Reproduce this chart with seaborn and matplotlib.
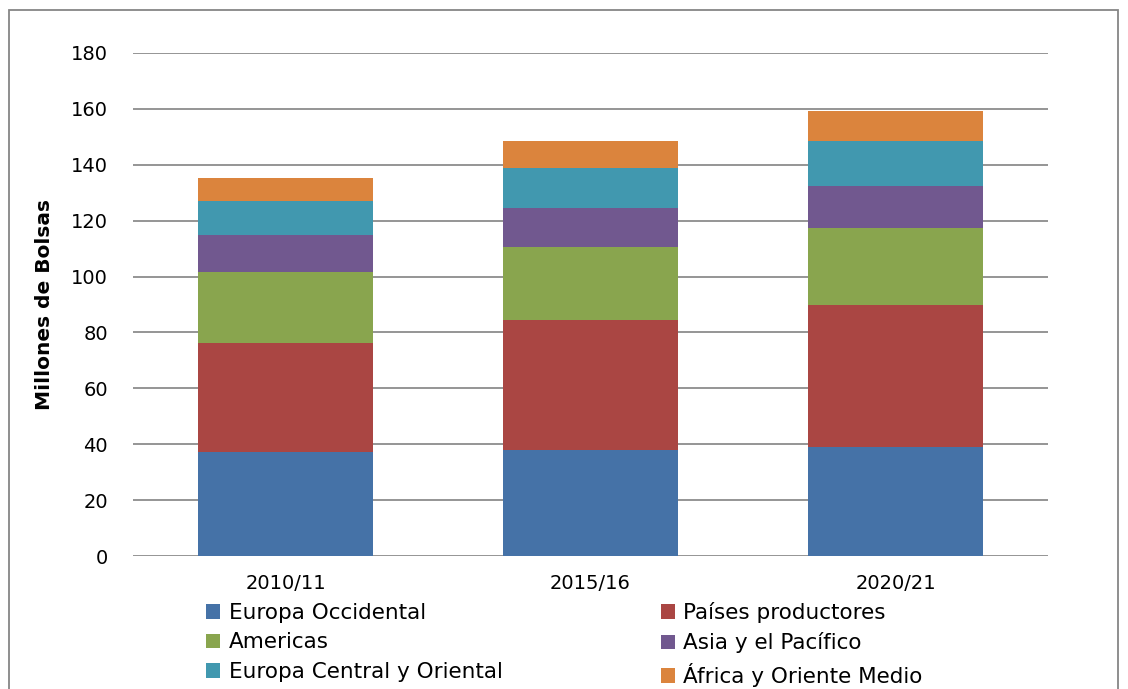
import seaborn as sns
import matplotlib.pyplot as plt
import pandas as pd
from matplotlib.patches import Rectangle, Patch

sns.set_theme(style="white")
plt.rcParams['font.family'] = ['DejaVu Sans']
plt.rcParams['text.color'] = 'black'

years = ["2010/11", "2015/16", "2020/21"]
regions = ["Europa Occidental", "Países productores", "Americas",
           "Asia y el Pacífico", "Europa Central y Oriental", "África y Oriente Medio"]
europa_occ = [37.3, 38.1, 39.0]
paises_prod = [39.1, 46.2, 50.8]
americas = [25.4, 26.3, 27.4]
asia_pac = [12.9, 14.0, 15.2]
europa_cen = [12.4, 14.4, 16.1]
africa = [8.2, 9.5, 10.7]
colors = ["#4572A7", "#AA4643", "#89A54E", "#71588F", "#4198AF", "#DB843D"]

series = [europa_occ, paises_prod, americas, asia_pac, europa_cen, africa]
df = pd.DataFrame({r: s for r, s in zip(regions, series)}, index=years)
cum = df.cumsum(axis=1)

fig = plt.figure(figsize=(11.28, 6.89), dpi=100)
ax = fig.add_axes([133/1128, 1-556/689, 915/1128, 503/689])

# stacked bars: draw cumulative totals from top down
for reg, col in reversed(list(zip(regions, colors))):
    sns.barplot(x=years, y=cum[reg].values, color=col, width=0.574,
                ax=ax, saturation=1, edgecolor="none", linewidth=0, zorder=3)

ax.set_ylim(0, 180)
ax.set_xlim(-0.5, 2.5)
ax.set_yticks(range(0, 181, 20))
ax.grid(axis="y", color="#8c8c8c", linewidth=1.3, zorder=0)
ax.grid(axis="x", visible=False)
for s in ax.spines.values():
    s.set_visible(False)
ax.tick_params(axis="y", length=0, pad=18, labelsize=14, labelcolor="black")
ax.tick_params(axis="x", length=0, pad=13, labelsize=14, labelcolor="black")
ax.set_ylabel("Millones de Bolsas", fontsize=14.5, fontweight="bold",
              labelpad=12, color="black")

# legend row-wise: reorder for 2 columns
order = [0, 2, 4, 1, 3, 5]
handles = [Patch(facecolor=colors[i], edgecolor="none") for i in order]
labels = [regions[i] for i in order]
fig.legend(handles, labels, ncol=2, loc="upper left",
           bbox_to_anchor=(206/1128, 1-602/689), frameon=False, fontsize=15.5,
           labelcolor="black",
           handlelength=0.65, handleheight=0.65, handletextpad=0.4,
           columnspacing=7.35, labelspacing=0.44, borderpad=0, borderaxespad=0)

fig.patches.append(Rectangle((9/1128, -0.05), 1109/1128, 1.05 - 10/689,
                             transform=fig.transFigure, fill=False,
                             edgecolor="#868686", linewidth=1.3))

fig.savefig("out.png", dpi=100)
